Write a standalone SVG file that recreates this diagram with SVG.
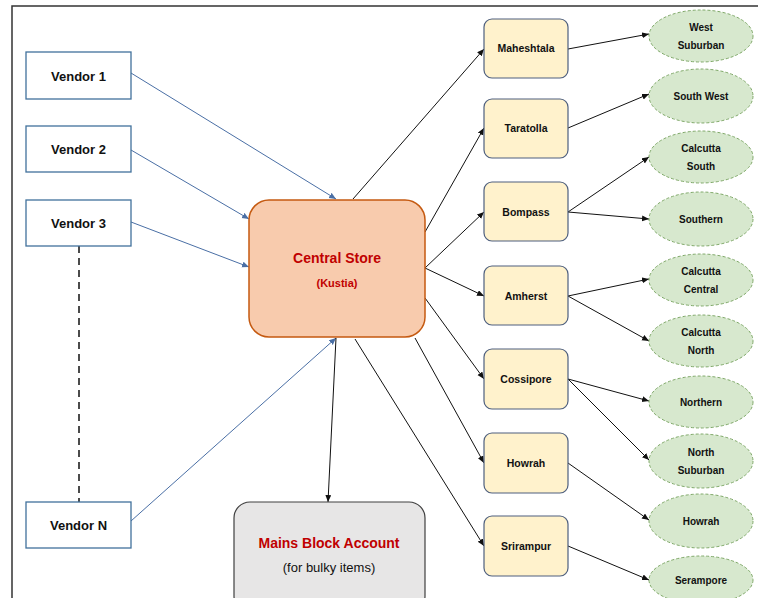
<svg xmlns="http://www.w3.org/2000/svg" width="758" height="598" viewBox="0 0 758 598">
<defs>
<style>
text{font-family:"Liberation Sans",Arial,sans-serif;font-weight:bold;text-anchor:middle;fill:#111}
.vendor rect{fill:#fff;stroke:#41719C;stroke-width:1.3}
.vendor text{font-size:13px}
.mid rect{fill:#FFF2CC;stroke:#4E5F7E;stroke-width:1.2}
.mid text{font-size:10.5px}
.zone ellipse{fill:#D7E8CE;stroke:#7FA868;stroke-width:1;stroke-dasharray:3 2}
.zone text{font-size:10px}
.red{fill:#C00000}
.c line{stroke:#111;stroke-width:1;marker-end:url(#ak)}
.c line.b{stroke:#4A6FA5;marker-end:url(#ab)}
</style>
<marker id="ak" markerUnits="userSpaceOnUse" markerWidth="8" markerHeight="8" refX="7" refY="3" orient="auto"><path d="M0,0 L7,3 L0,6 z" fill="#111"/></marker>
<marker id="ab" markerUnits="userSpaceOnUse" markerWidth="8" markerHeight="8" refX="7" refY="3" orient="auto"><path d="M0,0 L7,3 L0,6 z" fill="#4A6FA5"/></marker>
</defs>
<rect width="758" height="598" fill="#fff"/>
<path d="M12,598 V6 H758" fill="none" stroke="#333" stroke-width="1.5"/>

<g class="c" id="connectors">
<line class="b" x1="131" y1="73" x2="336" y2="199"/>
<line class="b" x1="131" y1="150" x2="249" y2="219"/>
<line class="b" x1="131" y1="222" x2="249" y2="267"/>
<line class="b" x1="131" y1="521" x2="336" y2="338"/>
<line x1="79" y1="246" x2="79" y2="502" style="stroke-dasharray:7 5;stroke-width:1.5;marker-end:none"/>
<line x1="336" y1="338" x2="328" y2="502"/>
<line x1="353" y1="199" x2="484" y2="49"/>
<line x1="425" y1="232" x2="484" y2="128"/>
<line x1="425" y1="268" x2="484" y2="212"/>
<line x1="425" y1="268" x2="484" y2="296"/>
<line x1="425" y1="298" x2="484" y2="379"/>
<line x1="415" y1="338" x2="484" y2="463"/>
<line x1="355" y1="339" x2="484" y2="546"/>
<line x1="568" y1="49" x2="649" y2="34"/>
<line x1="568" y1="128" x2="649" y2="94"/>
<line x1="568" y1="212" x2="649" y2="157"/>
<line x1="568" y1="212" x2="649" y2="219"/>
<line x1="568" y1="296" x2="649" y2="279"/>
<line x1="568" y1="296" x2="649" y2="341"/>
<line x1="568" y1="379" x2="649" y2="401"/>
<line x1="568" y1="379" x2="649" y2="460"/>
<line x1="568" y1="463" x2="649" y2="520"/>
<line x1="568" y1="546" x2="649" y2="580"/>
</g>

<g id="vendor1" class="vendor"><rect x="26" y="52" width="105" height="47"/><text x="78.5" y="80.5">Vendor 1</text></g>
<g id="vendor2" class="vendor"><rect x="26" y="126" width="105" height="46"/><text x="78.5" y="154">Vendor 2</text></g>
<g id="vendor3" class="vendor"><rect x="26" y="200" width="105" height="46"/><text x="78.5" y="228">Vendor 3</text></g>
<g id="vendorN" class="vendor"><rect x="26" y="502" width="105" height="46"/><text x="78.5" y="530">Vendor N</text></g>

<g id="central"><rect x="249" y="200" width="176" height="137" rx="20" fill="#F8CBAD" stroke="#C55A11" stroke-width="1.5"/>
<text x="337" y="263" class="red" style="font-size:14px">Central Store</text>
<text x="337" y="287" class="red" style="font-size:11px">(Kustia)</text></g>

<g id="mains"><rect x="234" y="502" width="191" height="110" rx="16" fill="#E7E6E6" stroke="#404040" stroke-width="1.2"/>
<text x="329" y="548" class="red" style="font-size:14px">Mains Block Account</text>
<text x="329" y="572" style="font-size:13px;font-weight:normal">(for bulky items)</text></g>

<g id="maheshtala" class="mid"><rect x="484" y="19" width="84" height="59" rx="8"/><text x="526" y="52">Maheshtala</text></g>
<g id="taratolla" class="mid"><rect x="484" y="99" width="84" height="59" rx="8"/><text x="526" y="132">Taratolla</text></g>
<g id="bompass" class="mid"><rect x="484" y="182" width="84" height="59" rx="8"/><text x="526" y="215.5">Bompass</text></g>
<g id="amherst" class="mid"><rect x="484" y="266" width="84" height="59" rx="8"/><text x="526" y="299.5">Amherst</text></g>
<g id="cossipore" class="mid"><rect x="484" y="349" width="84" height="60" rx="8"/><text x="526" y="383">Cossipore</text></g>
<g id="howrah" class="mid"><rect x="484" y="433" width="84" height="60" rx="8"/><text x="526" y="467">Howrah</text></g>
<g id="srirampur" class="mid"><rect x="484" y="516" width="84" height="60" rx="8"/><text x="526" y="550">Srirampur</text></g>

<g id="z-westsuburban" class="zone"><ellipse cx="701" cy="36" rx="52" ry="26"/><text x="701" y="31">West</text><text x="701" y="49">Suburban</text></g>
<g id="z-southwest" class="zone"><ellipse cx="701" cy="96" rx="52" ry="27"/><text x="701" y="99.5">South West</text></g>
<g id="z-calcuttasouth" class="zone"><ellipse cx="701" cy="157" rx="52" ry="26"/><text x="701" y="152">Calcutta</text><text x="701" y="170">South</text></g>
<g id="z-southern" class="zone"><ellipse cx="701" cy="219" rx="52" ry="27"/><text x="701" y="222.5">Southern</text></g>
<g id="z-calcuttacentral" class="zone"><ellipse cx="701" cy="280" rx="52" ry="26"/><text x="701" y="275">Calcutta</text><text x="701" y="293">Central</text></g>
<g id="z-calcuttanorth" class="zone"><ellipse cx="701" cy="341" rx="52" ry="26"/><text x="701" y="336">Calcutta</text><text x="701" y="354">North</text></g>
<g id="z-northern" class="zone"><ellipse cx="701" cy="402" rx="52" ry="26"/><text x="701" y="405.5">Northern</text></g>
<g id="z-northsuburban" class="zone"><ellipse cx="701" cy="461" rx="52" ry="27"/><text x="701" y="456">North</text><text x="701" y="474">Suburban</text></g>
<g id="z-howrah" class="zone"><ellipse cx="701" cy="521" rx="52" ry="27"/><text x="701" y="524.5">Howrah</text></g>
<g id="z-serampore" class="zone"><ellipse cx="701" cy="580" rx="52" ry="24"/><text x="701" y="583.5">Serampore</text></g>
</svg>
